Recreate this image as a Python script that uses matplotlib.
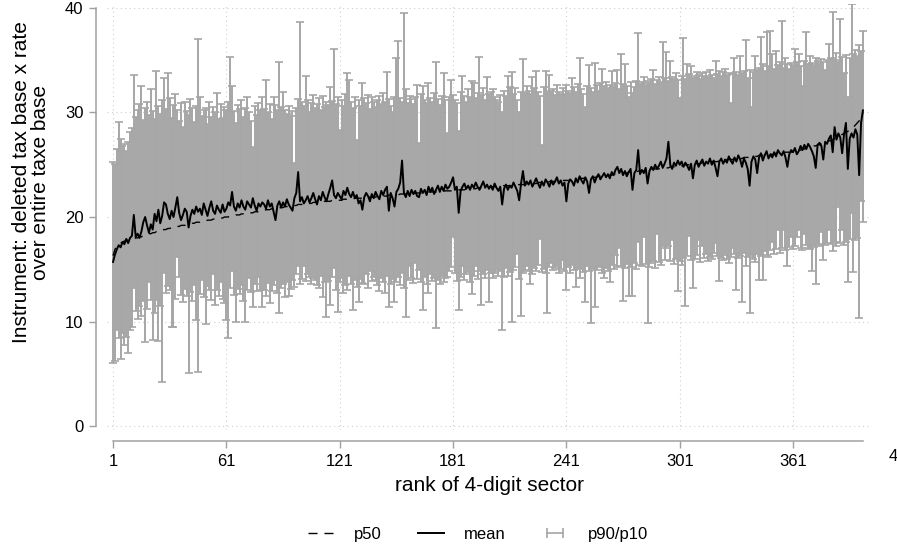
import numpy as np
import matplotlib
matplotlib.use('Agg')
import matplotlib.pyplot as plt
from matplotlib.lines import Line2D
from matplotlib.legend_handler import HandlerLine2D

plt.rcParams['font.family'] = ['Liberation Sans', 'DejaVu Sans']

# p90 of the instrument, by sector rank
p90 = [
    25.3, 25.1, 26.5, 29.1, 27.5, 26.8, 27.0, 26.3, 27.2, 28.1, 28.5, 33.6, 29.6, 30.2, 30.8, 32.5, 29.3, 30.4, 31.0, 29.8,
    32.2, 30.1, 29.4, 34.0, 30.6, 29.9, 31.2, 33.3, 30.3, 33.8, 31.4, 29.5, 30.7, 31.8, 30.2, 29.2, 30.9, 28.6, 31.0, 30.1,
    29.8, 31.3, 30.4, 29.1, 30.6, 37.0, 31.5, 29.7, 30.2, 30.4, 28.9, 31.0, 29.6, 30.5, 30.0, 31.9, 29.4, 30.8, 29.5, 30.5,
    30.2, 31.0, 35.3, 32.5, 30.1, 29.0, 30.7, 30.3, 31.2, 29.6, 30.4, 31.5, 30.0, 29.2, 26.7, 30.6, 29.8, 30.9, 30.2, 31.5,
    30.3, 33.1, 30.0, 30.8, 29.4, 31.5, 30.7, 30.2, 34.8, 30.5, 32.0, 30.2, 29.9, 30.6, 29.7, 30.1, 25.2, 30.4, 31.3, 38.7,
    31.0, 30.6, 33.5, 31.2, 30.0, 30.9, 31.7, 30.4, 30.8, 31.4, 30.2, 31.6, 30.5, 31.0, 30.7, 32.4, 31.1, 36.1, 30.8, 31.5,
    28.3, 31.2, 30.6, 31.8, 33.8, 33.1, 31.0, 30.4, 31.5, 27.4, 31.2, 30.6, 32.8, 31.4, 30.9, 31.7, 30.3, 31.5, 31.0, 30.5,
    31.2, 31.6, 30.8, 31.9, 31.0, 33.9, 31.3, 30.6, 30.0, 31.5, 35.2, 36.8, 31.4, 31.0, 39.5, 32.2, 30.9, 31.6, 31.3, 30.8,
    31.5, 32.6, 27.1, 31.8, 32.5, 31.2, 30.9, 32.8, 31.4, 31.0, 31.9, 34.8, 31.3, 30.7, 31.6, 33.8, 31.2, 28.0, 31.5, 33.1,
    31.7, 31.2, 30.9, 28.2, 32.0, 33.5, 31.6, 31.0, 32.2, 31.5, 33.0, 32.8, 31.4, 31.9, 35.3, 31.7, 32.3, 31.2, 33.4, 31.8,
    32.0, 32.2, 31.5, 31.2, 31.0, 31.7, 30.0, 32.1, 31.6, 33.5, 32.4, 33.9, 31.8, 32.3, 31.2, 30.0, 32.0, 35.1, 31.9, 32.5,
    32.1, 31.8, 33.4, 32.3, 34.0, 32.0, 31.6, 26.9, 32.4, 34.0, 31.9, 33.6, 32.1, 32.2, 31.7, 32.6, 32.0, 31.7, 32.3, 31.8,
    32.6, 32.1, 31.9, 33.3, 32.4, 32.0, 32.7, 35.2, 32.2, 31.8, 30.5, 32.5, 34.5, 32.3, 32.0, 34.7, 32.6, 32.1, 32.8, 34.2,
    32.5, 32.9, 32.3, 32.6, 34.0, 32.4, 32.8, 34.1, 32.2, 35.6, 32.7, 34.6, 32.5, 31.5, 32.9, 31.9, 32.4, 33.0, 37.6, 32.7,
    32.9, 33.4, 32.6, 33.0, 32.8, 33.2, 34.1, 32.7, 33.1, 33.4, 32.9, 36.7, 33.3, 35.8, 33.0, 34.9, 33.4, 33.2, 33.8, 33.1,
    31.4, 33.5, 37.1, 33.2, 34.6, 33.7, 34.4, 33.3, 33.5, 33.9, 33.6, 33.2, 33.8, 33.5, 33.9, 33.4, 34.1, 33.6, 33.3, 34.9,
    33.7, 34.0, 33.5, 33.9, 34.2, 33.6, 33.8, 30.9, 33.7, 35.2, 33.9, 33.6, 35.4, 33.8, 34.0, 36.9, 33.3, 34.1, 30.5, 33.9,
    35.4, 34.1, 34.3, 37.2, 34.6, 34.0, 37.7, 34.4, 37.8, 35.6, 34.2, 35.9, 34.5, 34.8, 38.8, 34.3, 35.2, 34.6, 34.2, 34.7,
    34.5, 36.1, 34.8, 35.6, 34.4, 32.5, 34.9, 37.7, 34.6, 35.4, 34.7, 34.5, 35.2, 34.9, 34.6, 35.1, 34.8, 34.1, 35.0, 36.6,
    35.2, 39.6, 35.0, 35.7, 34.8, 38.9, 35.3, 33.8, 35.5, 31.5, 35.2, 40.4, 35.6, 36.0, 35.4, 36.5, 35.9, 37.8,
]

# p10
p10 = [
    6.0, 6.2, 9.2, 8.4, 6.4, 8.9, 7.8, 8.5, 7.0, 9.2, 9.5, 13.2, 11.0, 10.2, 11.5, 10.5, 12.0, 8.0, 11.2, 13.8,
    12.1, 8.2, 10.8, 12.1, 8.1, 11.5, 4.2, 14.6, 12.7, 13.4, 13.0, 9.5, 9.5, 12.2, 16.2, 14.3, 12.5, 11.9, 13.1, 12.4,
    5.1, 12.8, 12.0, 13.5, 10.1, 5.2, 12.6, 14.0, 12.3, 9.8, 13.4, 13.0, 12.1, 14.5, 11.6, 13.0, 12.4, 13.8, 12.2, 11.8,
    10.1, 8.4, 13.2, 14.8, 12.5, 10.0, 13.1, 12.6, 13.5, 12.0, 10.0, 13.0, 14.2, 12.8, 11.4, 13.6, 12.9, 14.3, 13.0, 11.4,
    13.0, 12.4, 13.7, 11.8, 12.9, 13.5, 14.0, 12.7, 10.8, 13.2, 13.6, 12.3, 13.8, 12.4, 13.1, 14.0, 13.3, 14.5, 15.3, 13.6,
    14.1, 15.3, 13.9, 14.5, 14.3, 13.6, 14.2, 14.0, 13.5, 13.2, 14.4, 12.3, 13.8, 10.4, 13.9, 11.6, 14.3, 15.1, 13.0, 10.9,
    13.8, 14.2, 12.7, 13.5, 13.0, 14.4, 13.6, 11.1, 14.0, 13.3, 11.9, 14.1, 13.7, 13.6, 14.5, 13.2, 14.8, 13.9, 14.3, 14.0,
    13.5, 12.9, 14.2, 13.8, 12.7, 14.4, 11.4, 13.6, 14.1, 11.9, 13.8, 14.3, 13.5, 14.6, 13.2, 10.4, 14.0, 15.3, 14.2, 13.7,
    15.6, 14.1, 14.9, 13.8, 11.1, 14.3, 13.6, 12.7, 14.5, 13.9, 14.2, 9.4, 14.0, 13.6, 14.4, 13.8, 14.2, 14.3, 14.8, 15.2,
    18.1, 14.6, 13.9, 11.1, 14.3, 15.3, 14.0, 14.5, 14.7, 13.8, 12.6, 14.4, 15.3, 14.1, 14.8, 11.6, 14.5, 14.2, 14.9, 11.9,
    14.6, 14.2, 14.6, 15.0, 14.4, 14.8, 9.2, 14.3, 15.1, 14.4, 14.7, 10.0, 14.9, 15.2, 16.5, 14.1, 10.5, 14.6, 14.8, 15.3,
    14.9, 13.6, 14.5, 15.1, 14.8, 15.4, 17.9, 14.7, 15.0, 14.6, 10.8, 15.2, 15.6, 14.9, 15.1, 15.3, 14.6, 15.0, 15.9, 14.8,
    13.0, 15.2, 14.6, 15.4, 14.9, 13.3, 15.1, 14.2, 15.0, 14.7, 11.9, 15.3, 14.8, 9.9, 15.0, 11.4, 14.9, 15.2, 15.3, 14.6,
    14.2, 15.1, 14.8, 13.8, 15.4, 15.0, 16.4, 15.2, 17.0, 15.3, 12.0, 15.1, 15.5, 12.4, 15.2, 12.4, 15.6, 15.0, 17.6, 15.4,
    15.3, 18.1, 15.5, 9.9, 15.2, 15.6, 15.8, 15.1, 18.4, 15.7, 15.4, 17.2, 15.9, 17.0, 17.2, 15.8, 17.8, 15.5, 16.0, 12.9,
    15.8, 15.4, 16.1, 11.5, 16.3, 18.2, 15.9, 13.2, 16.0, 16.4, 17.8, 15.7, 17.2, 16.1, 16.5, 15.8, 16.2, 16.0, 16.6, 17.5,
    16.3, 13.9, 16.1, 15.9, 16.4, 16.0, 15.6, 16.2, 17.0, 16.5, 13.0, 16.1, 16.3, 11.9, 16.6, 15.3, 16.2, 10.8, 16.4, 16.0,
    15.7, 16.5, 14.0, 16.3, 14.0, 16.7, 16.4, 16.2, 16.8, 17.6, 16.5, 16.9, 18.8, 16.6, 17.0, 18.8, 16.8, 15.3, 17.1, 18.1,
    16.9, 17.2, 18.1, 18.8, 17.0, 16.8, 18.4, 17.3, 17.0, 16.9, 14.8, 17.1, 13.6, 17.4, 17.2, 18.6, 15.9, 17.3, 17.5, 18.8,
    17.4, 16.7, 17.6, 17.2, 21.0, 17.5, 18.8, 17.3, 17.6, 13.8, 17.9, 20.4, 14.7, 17.8, 18.0, 10.3, 21.5, 19.5,
]

# median
p50 = [
    16.3, 16.9, 17.2, 17.4, 17.5, 17.6, 17.7, 17.7, 17.8, 17.8, 17.9, 17.9, 18.0, 18.0, 18.1, 18.1, 18.2, 18.2, 18.3, 18.4,
    18.4, 18.5, 18.5, 18.6, 18.6, 18.7, 18.7, 18.8, 18.8, 18.9, 18.9, 19.0, 19.0, 19.0, 19.1, 19.1, 19.2, 19.2, 19.2, 19.3,
    19.3, 19.3, 19.4, 19.4, 19.5, 19.5, 19.5, 19.6, 19.6, 19.6, 19.7, 19.7, 19.7, 19.8, 19.8, 19.8, 19.9, 19.9, 19.9, 20.0,
    20.0, 20.0, 20.1, 20.1, 20.1, 20.2, 20.2, 20.2, 20.3, 20.3, 20.3, 20.3, 20.4, 20.4, 20.4, 20.5, 20.5, 20.5, 20.6, 20.6,
    20.6, 20.7, 20.7, 20.7, 20.8, 20.8, 20.8, 20.8, 20.9, 20.9, 20.9, 21.0, 21.0, 21.0, 21.0, 21.1, 21.1, 21.1, 21.2, 21.2,
    21.2, 21.2, 21.3, 21.3, 21.3, 21.3, 21.4, 21.4, 21.4, 21.4, 21.4, 21.5, 21.5, 21.5, 21.5, 21.5, 21.6, 21.6, 21.6, 21.6,
    21.6, 21.6, 21.7, 21.7, 21.7, 21.7, 21.7, 21.7, 21.8, 21.8, 21.8, 21.8, 21.8, 21.8, 21.9, 21.9, 21.9, 21.9, 21.9, 21.9,
    22.0, 22.0, 22.0, 22.0, 22.0, 22.0, 22.1, 22.1, 22.1, 22.1, 22.1, 22.1, 22.2, 22.2, 22.2, 22.2, 22.2, 22.2, 22.2, 22.2,
    22.3, 22.3, 22.3, 22.3, 22.3, 22.3, 22.4, 22.4, 22.4, 22.4, 22.4, 22.4, 22.4, 22.5, 22.5, 22.5, 22.5, 22.5, 22.5, 22.5,
    22.5, 22.6, 22.6, 22.6, 22.6, 22.6, 22.6, 22.7, 22.7, 22.7, 22.7, 22.7, 22.7, 22.8, 22.8, 22.8, 22.8, 22.8, 22.8, 22.8,
    22.9, 22.9, 22.9, 22.9, 22.9, 22.9, 23.0, 23.0, 23.0, 23.0, 23.0, 23.0, 23.0, 23.1, 23.1, 23.1, 23.1, 23.1, 23.1, 23.1,
    23.2, 23.2, 23.2, 23.2, 23.2, 23.3, 23.3, 23.3, 23.3, 23.3, 23.3, 23.4, 23.4, 23.4, 23.4, 23.4, 23.4, 23.5, 23.5, 23.5,
    23.5, 23.5, 23.5, 23.6, 23.6, 23.6, 23.6, 23.7, 23.7, 23.7, 23.7, 23.7, 23.8, 23.8, 23.8, 23.8, 23.8, 23.9, 23.9, 23.9,
    23.9, 24.0, 24.0, 24.0, 24.0, 24.1, 24.1, 24.1, 24.1, 24.2, 24.2, 24.2, 24.2, 24.3, 24.3, 24.3, 24.3, 24.3, 24.4, 24.4,
    24.4, 24.4, 24.5, 24.5, 24.5, 24.5, 24.6, 24.6, 24.6, 24.6, 24.7, 24.7, 24.7, 24.7, 24.7, 24.8, 24.8, 24.8, 24.8, 24.9,
    24.9, 24.9, 24.9, 25.0, 25.0, 25.0, 25.0, 25.0, 25.1, 25.1, 25.1, 25.1, 25.2, 25.2, 25.2, 25.2, 25.3, 25.3, 25.3, 25.3,
    25.3, 25.4, 25.4, 25.4, 25.4, 25.5, 25.5, 25.5, 25.5, 25.6, 25.6, 25.6, 25.6, 25.6, 25.7, 25.7, 25.7, 25.7, 25.8, 25.8,
    25.8, 25.8, 25.9, 25.9, 25.9, 25.9, 26.0, 26.0, 26.0, 26.0, 26.0, 26.1, 26.1, 26.1, 26.1, 26.2, 26.2, 26.2, 26.2, 26.2,
    26.3, 26.3, 26.3, 26.4, 26.4, 26.5, 26.5, 26.6, 26.6, 26.7, 26.7, 26.8, 26.8, 26.9, 26.9, 27.0, 27.0, 27.1, 27.2, 27.3,
    27.3, 27.4, 27.5, 27.6, 27.7, 27.8, 27.9, 28.0, 28.1, 28.2, 28.3, 28.5, 28.6, 28.8, 29.0, 29.2, 29.5, 30.0,
]

# mean
mean = [
    15.7, 16.4, 16.9, 17.3, 17.1, 17.6, 17.4, 17.9, 17.5, 18.0, 18.2, 20.2, 18.1, 18.4, 18.0, 18.6, 19.5, 20.0, 19.2, 18.5,
    19.3, 18.8, 20.3, 19.6, 20.7, 19.4, 20.1, 21.4, 21.2, 20.3, 19.8, 20.6, 20.0, 20.9, 21.9, 20.4, 19.7, 20.2, 20.8, 20.5,
    19.0, 20.1, 20.7, 20.3, 21.0, 20.5, 20.8, 20.2, 21.3, 20.7, 20.1, 20.9, 21.5, 20.6, 20.3, 21.1, 20.7, 20.4, 21.2, 20.5,
    20.8, 21.4, 21.1, 22.4, 21.0, 20.6, 21.3, 20.9, 21.6, 21.0, 20.7, 21.5, 21.2, 20.9, 21.8, 21.1, 20.6, 21.3, 21.0, 21.4,
    21.2, 20.8, 21.6, 21.0, 21.3, 20.5, 19.7, 21.1, 21.5, 20.9, 21.4, 21.0, 21.7, 21.2, 20.9, 20.6, 21.8, 22.3, 24.3, 21.5,
    21.9, 21.3, 21.6, 22.0, 21.4, 21.8, 22.3, 21.7, 21.2, 22.0, 21.6, 22.4, 21.9, 21.5, 22.2, 22.8, 23.5, 22.1, 21.8, 22.3,
    22.0, 21.7, 22.5, 22.1, 22.8, 22.2, 21.9, 22.4, 21.8, 22.1, 21.3, 21.6, 20.7, 21.9, 22.3, 22.0, 21.5, 22.2, 21.8, 22.4,
    22.0, 21.7, 22.5, 22.1, 22.6, 22.9, 20.6, 22.3, 21.8, 21.0, 22.4, 22.7, 23.3, 25.4, 22.3, 21.9, 22.5, 22.0, 22.6, 22.2,
    22.5, 22.0, 21.9, 22.7, 22.3, 22.6, 22.1, 22.9, 22.4, 22.8, 22.2, 22.6, 23.0, 22.4, 22.9, 22.5, 23.1, 22.7, 22.9, 23.3,
    23.8, 22.6, 22.9, 20.4, 22.5, 22.9, 23.2, 22.7, 23.0, 22.6, 23.1, 22.8, 23.3, 22.9, 22.6, 23.0, 23.4, 22.8, 23.1, 22.7,
    23.0, 22.6, 23.2, 22.8, 22.5, 22.9, 21.2, 22.7, 23.1, 22.6, 23.0, 22.8, 23.3, 22.9, 22.5, 21.6, 23.2, 24.4, 23.0, 23.4,
    23.1, 23.5, 22.9, 23.3, 23.7, 23.2, 22.8, 23.4, 23.0, 23.6, 23.3, 22.9, 23.5, 23.1, 23.4, 23.8, 23.2, 23.5, 23.0, 23.3,
    21.5, 23.2, 23.6, 23.4, 23.0, 23.7, 23.3, 23.9, 23.5, 23.2, 23.8, 23.4, 22.3, 23.6, 23.9, 23.3, 23.8, 24.1, 23.6, 23.9,
    24.2, 23.8, 24.1, 23.7, 24.3, 24.0, 24.5, 24.8, 24.2, 24.6, 24.0, 24.4, 23.9, 24.3, 24.6, 22.6, 24.2, 24.5, 26.4, 24.1,
    24.5, 24.2, 24.7, 23.2, 24.4, 24.8, 24.5, 25.0, 24.6, 24.9, 25.3, 24.7, 25.1, 25.6, 27.2, 25.0, 24.6, 25.2, 24.9, 25.4,
    25.0, 25.3, 24.8, 25.2, 24.9, 24.5, 25.1, 23.7, 25.0, 25.4, 24.8, 25.2, 25.5, 24.9, 25.3, 25.1, 25.6, 25.0, 25.4, 24.7,
    23.9, 25.3, 25.6, 25.1, 25.5, 25.2, 25.8, 25.4, 25.1, 25.7, 25.3, 25.9, 25.5, 24.8, 25.6, 25.2, 24.6, 23.0, 25.3, 25.8,
    25.5, 24.2, 25.7, 26.1, 25.4, 25.9, 26.3, 25.6, 26.0, 25.7, 26.2, 25.8, 26.4, 26.1, 25.9, 26.3, 25.7, 24.8, 26.0, 26.4,
    26.2, 26.6, 26.0, 26.3, 26.8, 26.4, 26.9, 26.5, 27.0, 26.7, 26.3, 25.8, 24.7, 26.9, 27.1, 26.8, 25.5, 27.2, 27.0, 27.5,
    27.8, 26.2, 28.6, 27.4, 28.0, 27.6, 26.1, 27.9, 29.0, 24.6, 27.5, 28.0, 27.6, 28.4, 27.9, 24.0, 29.0, 30.2,
]

xticks = [1, 61, 121, 181, 241, 301, 361]
yticks = [0, 10, 20, 30, 40]

p90 = np.array(p90)
p10 = np.array(p10)
p50 = np.array(p50)
mean = np.array(mean)
rank = np.arange(1, len(p50) + 1)

fig = plt.figure(figsize=(8.97, 5.53), dpi=100)
ax = fig.add_axes([107 / 897, 1 - 430 / 553, (872 - 107) / 897, 426 / 553])

bar_col = '#a6a6a6'
ax.errorbar(rank, p50, yerr=[p50 - p10, p90 - p50], fmt='none', ecolor=bar_col,
            elinewidth=1.4, capsize=3, capthick=1.2, zorder=2)
ax.plot(rank, p50, color='black', lw=1.0, linestyle=(0, (6, 5)), zorder=3)
ax.plot(rank, mean, color='black', lw=1.4, zorder=4)

ax.set_xlim(-2.2, 402.8)
ax.set_ylim(-0.38, 40.38)
ax.set_xticks(xticks)
ax.set_yticks(yticks)

# stata-like grid and axes
ax.grid(True, color='#cfcfcf', linestyle=(0, (1, 3)), lw=0.8)
ax.set_axisbelow(True)
for side in ['top', 'right']:
    ax.spines[side].set_visible(False)
ax.spines['left'].set_position(('outward', 8))
ax.spines['bottom'].set_position(('outward', 8))
ax.spines['left'].set_bounds(0, 40)
ax.spines['bottom'].set_bounds(1, rank[-1])
for side in ['left', 'bottom']:
    ax.spines[side].set_color('#a0a0a0')
    ax.spines[side].set_linewidth(1.1)
ax.tick_params(axis='both', colors='#a0a0a0', labelcolor='black', length=5,
               width=1.0, labelsize=12, pad=4)

# last label (421) sits beyond the plot region and gets cut at the edge
ax.text(419, -19 / 426, '421', transform=ax.get_xaxis_transform(), ha='center',
        va='top', fontsize=12, clip_on=False)

ax.set_xlabel('rank of 4-digit sector', fontsize=15, labelpad=5)
ax.set_ylabel('Instrument: deleted tax base x rate\nover entire taxe base',
              fontsize=15, linespacing=1.0)
ax.yaxis.set_label_coords(-0.0745, 0.582)

h_p50 = Line2D([], [], color='black', lw=1.0, linestyle=(0, (6.5, 5)))
h_mean = Line2D([], [], color='black', lw=1.4)
h_cap = Line2D([], [], color=bar_col, lw=1.2, marker='|', markersize=7, markeredgewidth=1.2)
fig.legend([h_p50, h_mean, h_cap], ['p50', 'mean', 'p90/p10'], loc='center',
           bbox_to_anchor=(0.533, 0.033), ncol=3, frameon=False, fontsize=12,
           handlelength=1.55, handletextpad=1.2, columnspacing=2.2, numpoints=1,
           handler_map={h_cap: HandlerLine2D(numpoints=2)})

fig.savefig('out.png', dpi=100)
